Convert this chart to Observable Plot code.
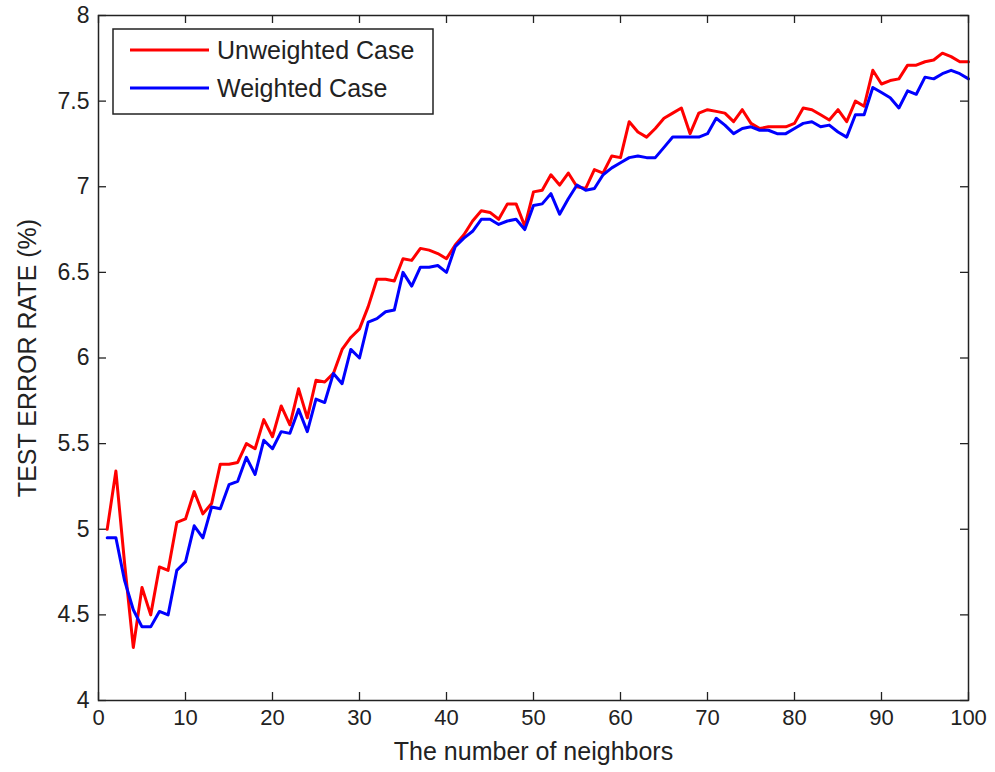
<!DOCTYPE html>
<html>
<head>
<meta charset="utf-8">
<script src="https://cdn.jsdelivr.net/npm/d3@7"></script>
<script src="https://cdn.jsdelivr.net/npm/@observablehq/plot@0.6"></script>
<style>
  html, body { margin: 0; padding: 0; background: #fff; }
  #chart { width: 995px; height: 772px; }
</style>
</head>
<body>
<div id="chart"></div>
<script>
const neighbors = d3.range(1, 101);
const unweighted = [
  5.00, 5.34, 4.80, 4.31, 4.66, 4.50, 4.78, 4.76, 5.04, 5.06,
  5.22, 5.09, 5.15, 5.38, 5.38, 5.39, 5.50, 5.47, 5.64, 5.54,
  5.72, 5.61, 5.82, 5.65, 5.87, 5.86, 5.91, 6.05, 6.12, 6.17,
  6.30, 6.46, 6.46, 6.45, 6.58, 6.57, 6.64, 6.63, 6.61, 6.58,
  6.66, 6.72, 6.80, 6.86, 6.85, 6.81, 6.90, 6.90, 6.77, 6.97,
  6.98, 7.07, 7.01, 7.08, 7.00, 6.99, 7.10, 7.08, 7.18, 7.17,
  7.38, 7.32, 7.29, 7.34, 7.40, 7.43, 7.46, 7.31, 7.43, 7.45,
  7.44, 7.43, 7.38, 7.45, 7.37, 7.34, 7.35, 7.35, 7.35, 7.37,
  7.46, 7.45, 7.42, 7.39, 7.45, 7.38, 7.50, 7.47, 7.68, 7.60,
  7.62, 7.63, 7.71, 7.71, 7.73, 7.74, 7.78, 7.76, 7.73, 7.73
];
const weighted = [
  4.95, 4.95, 4.70, 4.53, 4.43, 4.43, 4.52, 4.50, 4.76, 4.81,
  5.02, 4.95, 5.13, 5.12, 5.26, 5.28, 5.42, 5.32, 5.52, 5.47,
  5.57, 5.56, 5.70, 5.57, 5.76, 5.74, 5.91, 5.85, 6.05, 6.00,
  6.21, 6.23, 6.27, 6.28, 6.50, 6.42, 6.53, 6.53, 6.54, 6.50,
  6.65, 6.70, 6.74, 6.81, 6.81, 6.78, 6.80, 6.81, 6.75, 6.89,
  6.90, 6.96, 6.84, 6.93, 7.01, 6.98, 6.99, 7.07, 7.11, 7.14,
  7.17, 7.18, 7.17, 7.17, 7.23, 7.29, 7.29, 7.29, 7.29, 7.31,
  7.40, 7.36, 7.31, 7.34, 7.35, 7.33, 7.33, 7.31, 7.31, 7.34,
  7.37, 7.38, 7.35, 7.36, 7.32, 7.29, 7.42, 7.42, 7.58, 7.55,
  7.52, 7.46, 7.56, 7.54, 7.64, 7.63, 7.66, 7.68, 7.66, 7.63
];
const xTicks = [0, 10, 20, 30, 40, 50, 60, 70, 80, 90, 100];
const yTicks = [4, 4.5, 5, 5.5, 6, 6.5, 7, 7.5, 8];
const seriesNames = ["Unweighted Case", "Weighted Case"];
const seriesColors = ["#ff0000", "#0000ff"];
const xLabel = "The number of neighbors";
const yLabel = "TEST ERROR RATE (%)";

const uData = neighbors.map((k, i) => ({k, v: unweighted[i]}));
const wData = neighbors.map((k, i) => ({k, v: weighted[i]}));

const font = "'Liberation Sans', Arial, Helvetica, sans-serif";
const tickLen = 8;
const plotH = 772 - 15 - 72;
const plotW = 995 - 98 - 27;

const chart = Plot.plot({
  width: 995,
  height: 772,
  marginLeft: 98,
  marginRight: 27,
  marginTop: 15,
  marginBottom: 72,
  x: {domain: [0, 100]},
  y: {domain: [4, 8]},
  style: {fontFamily: font, background: "#fff", color: "#222"},
  marks: [
    Plot.axisX(xTicks, {tickSize: 0, tickPadding: 9, label: null, fontSize: 22, tickFormat: d => String(d)}),
    Plot.axisY(yTicks, {tickSize: 0, tickPadding: 9, label: null, fontSize: 23, tickFormat: d => String(d)}),
    Plot.tickX(xTicks, {x: d => d, insetTop: plotH - tickLen, stroke: "#222", strokeWidth: 1.3}),
    Plot.tickX(xTicks, {x: d => d, insetBottom: plotH - tickLen, stroke: "#222", strokeWidth: 1.3}),
    Plot.tickY(yTicks, {y: d => d, insetRight: plotW - tickLen, stroke: "#222", strokeWidth: 1.3}),
    Plot.tickY(yTicks, {y: d => d, insetLeft: plotW - tickLen, stroke: "#222", strokeWidth: 1.3}),
    Plot.line(uData, {x: "k", y: "v", stroke: seriesColors[0], strokeWidth: 3}),
    Plot.line(wData, {x: "k", y: "v", stroke: seriesColors[1], strokeWidth: 3}),
    Plot.frame({stroke: "#222", strokeWidth: 1.5}),
    Plot.text([xLabel], {frameAnchor: "bottom", lineAnchor: "middle", dy: 51, fontSize: 25, fill: "#222"}),
    Plot.text([yLabel], {frameAnchor: "left", textAnchor: "middle", lineAnchor: "middle", dx: -71, rotate: -90, fontSize: 25, fill: "#222"})
  ]
});

// Legend (decoration) drawn into the plot's SVG
const svg = d3.select(chart);
const lg = svg.append("g").attr("font-family", font).attr("text-anchor", "start");
lg.append("rect").attr("x", 113).attr("y", 29).attr("width", 320).attr("height", 85)
  .attr("fill", "#fff").attr("stroke", "#222").attr("stroke-width", 1.5);
seriesNames.forEach((name, i) => {
  const cy = 50 + i * 38;
  lg.append("line").attr("x1", 130).attr("x2", 209).attr("y1", cy).attr("y2", cy)
    .attr("stroke", seriesColors[i]).attr("stroke-width", 3);
  lg.append("text").attr("x", 217).attr("y", cy).attr("dy", "0.35em")
    .attr("text-anchor", "start")
    .attr("font-size", 25).attr("fill", "#222").text(name);
});

document.getElementById("chart").appendChild(chart);
</script>
</body>
</html>
